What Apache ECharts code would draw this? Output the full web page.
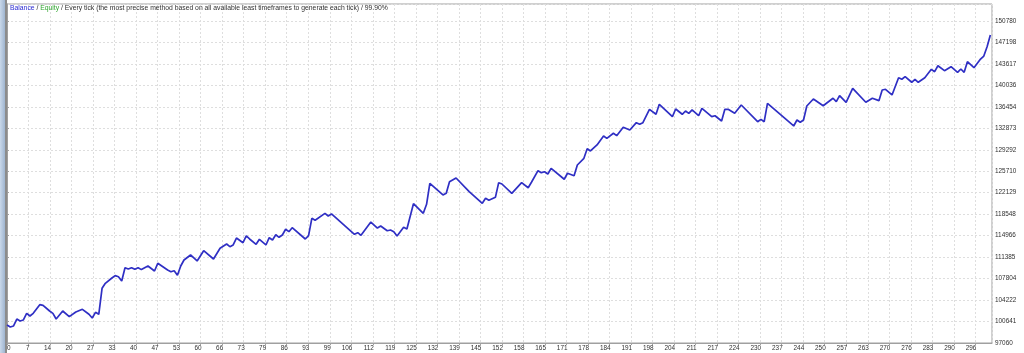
<!DOCTYPE html>
<html><head><meta charset="utf-8">
<script src="https://cdn.jsdelivr.net/npm/echarts@6/dist/echarts.min.js"></script>
<style>html,body{margin:0;padding:0;background:#fff}#c{width:1024px;height:353px}</style>
</head><body><div id="c"></div>
<script>
// trade number (x) and balance (y) at each visible vertex of the balance curve
const trades = [0,1,2,3,4,5,6,7,8,10,11,13,14,15,17,19,21,23,25,26,27,28,29,30,32,33,34,35,36,37,38,39,40,41,43,45,46,49,50,51,52,53,54,56,58,60,63,65,67,68,69,70,72,73,74,76,77,79,80,81,82,83,84,85,86,87,91,92,93,94,97,98,99,106,107,108,111,113,114,116,117,118,119,121,122,124,127,128,129,133,134,135,137,141,145,146,147,149,150,151,154,157,159,160,162,163,164,165,166,170,171,173,174,176,177,178,180,182,183,185,186,188,190,192,193,194,196,198,199,203,204,206,207,208,209,211,212,215,216,218,219,220,222,224,229,230,231,232,240,241,242,243,244,246,249,252,253,254,256,258,262,264,266,267,268,270,272,273,274,276,277,278,280,282,283,284,286,288,290,291,292,293,295,297,298,299,300];
const balance = [100050,99730,99900,101060,100730,100900,102010,101560,102010,103450,103350,102400,102010,101060,102400,101450,102230,102680,101850,101230,102180,101850,106180,107020,107900,108290,108120,107400,109620,109400,109620,109350,109620,109300,109900,109070,110350,109240,108950,109120,108350,109900,110900,111740,110740,112460,111070,112860,113570,113120,113410,114570,113790,114910,114410,113520,114360,113410,114620,114240,115120,114690,115070,116030,115630,116290,114410,114960,117860,117530,118690,118240,118580,115190,115460,115020,117240,116240,116580,115790,115910,115630,114910,116360,116080,120300,118690,120200,123700,121750,122030,123970,124580,122300,120360,121200,120860,121360,123800,123580,122030,123800,122960,123870,125800,125470,125630,125250,126200,124370,125370,124970,126750,127870,129470,129090,130090,131590,131200,132040,131640,133040,132590,133810,133540,133810,136040,135210,136880,134810,136090,135210,135760,135370,135930,134970,136210,134810,134970,134090,136040,136040,135370,136760,133970,134370,133970,137040,133260,134260,133870,134260,136590,137760,136640,137880,137310,138310,137210,139540,137210,137880,137480,139260,139380,138430,141310,141050,141480,140550,141050,140550,141310,142710,142310,143310,142480,143150,142210,142760,142210,143980,142980,144430,144930,146480,148430];
const xTickLabels = ['0','7','14','20','27','33','40','47','53','60','66','73','79','86','93','99','106','112','119','125','132','139','145','152','158','165','171','178','184','191','198','204','211','217','224','230','237','244','250','257','263','270','276','283','290','296'];
const yTickLabels = ['97060','100641','104222','107804','111385','114966','118548','122129','125710','129292','132873','136454','140036','143617','147198','150780'];
const headerText = 'Every tick (the most precise method based on all available least timeframes to generate each tick) / 99.90%';

const xMax = 300.5, xInt = 6.565;
const yMin = 97060, yMax = 153605, yInt = 3581.3333333;
const font = 'Liberation Sans, Arial, sans-serif';
const gridColor = '#dedede';
const axisColor = '#a0a0a0';

const chart = echarts.init(document.getElementById('c'), null, {renderer: 'canvas'});
chart.setOption({
  animation: false,
  backgroundColor: '#ffffff',
  textStyle: {fontFamily: font},
  title: {
    left: 10, top: 5, padding: 0,
    text: '{b|Balance} / {e|Equity} / ' + headerText,
    textStyle: {fontSize: 6.8, fontWeight: 'normal', color: '#303030', fontFamily: font,
      rich: {b: {color: '#2a2ad2', fontSize: 6.8, fontFamily: font}, e: {color: '#2fa52f', fontSize: 6.8, fontFamily: font}}}
  },
  grid: {left: 7, right: 32, top: 4, bottom: 10, show: true, borderColor: axisColor, borderWidth: 1, backgroundColor: '#ffffff'},
  xAxis: {
    type: 'value', min: 0, max: xMax, interval: xInt,
    axisLine: {show: true, lineStyle: {color: axisColor, width: 1}},
    axisTick: {show: true, length: 2, lineStyle: {color: axisColor}},
    axisLabel: {fontSize: 6.4, color: '#303030', margin: 2, align: 'right', alignMinLabel: 'left', showMaxLabel: false,
      fontFamily: font, padding: [0, -1, 0, 0],
      formatter: v => { const s = xTickLabels[Math.round(v / xInt)]; return s === undefined ? '' : s; }},
    splitLine: {show: true, lineStyle: {color: gridColor, type: [2, 2], width: 1}}
  },
  yAxis: {
    type: 'value', position: 'right', min: yMin, max: yMax, interval: yInt,
    axisLine: {show: true, lineStyle: {color: axisColor, width: 1}},
    axisTick: {show: true, length: 2, lineStyle: {color: axisColor}},
    axisLabel: {fontSize: 6.4, color: '#303030', margin: 3, showMaxLabel: false, fontFamily: font,
      formatter: v => { const s = yTickLabels[Math.round((v - yMin) / yInt)]; return s === undefined ? '' : s; }},
    splitLine: {show: true, lineStyle: {color: gridColor, type: [2, 2], width: 1}}
  },
  graphic: [
    {type: 'rect', left: 0, top: 0, shape: {width: 5, height: 353}, silent: true,
      style: {fill: {type: 'linear', x: 0, y: 0, x2: 1, y2: 0, colorStops: [{offset: 0, color: '#c9d8ea'}, {offset: 1, color: '#9fb5d0'}]}}},
    {type: 'rect', left: 5, top: 0, shape: {width: 2, height: 353}, silent: true, style: {fill: '#8c8c8c'}}
  ],
  series: [{
    name: 'Balance', type: 'line', showSymbol: false, symbol: 'none',
    data: trades.map((t, i) => [t, balance[i]]),
    lineStyle: {color: '#2f2fc4', width: 1.7},
    z: 5
  }]
});
</script>
</body></html>
